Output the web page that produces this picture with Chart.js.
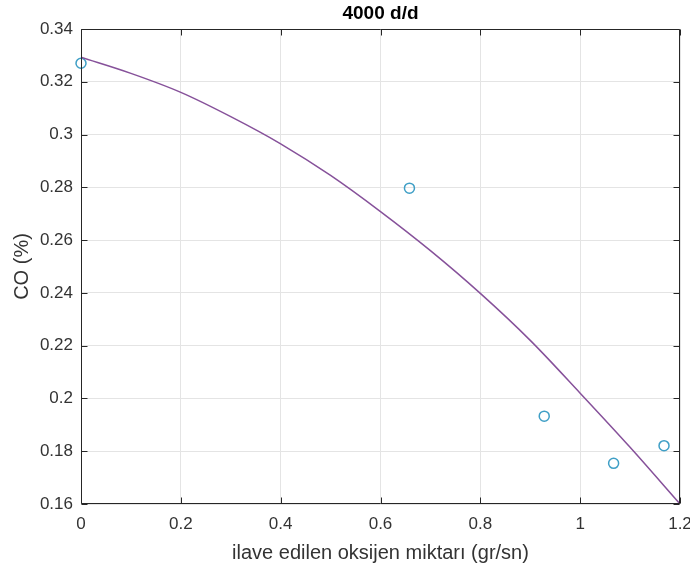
<!DOCTYPE html>
<html><head><meta charset="utf-8">
<script src="https://cdn.jsdelivr.net/npm/chart.js@4/dist/chart.umd.min.js"></script>
<style>html,body{margin:0;padding:0;background:#fff}#wrap{width:690px;height:572px;position:relative}</style>
</head><body><div id="wrap"><canvas id="c" width="690" height="572"></canvas></div>
<script>
const chartTitle = '4000 d/d';
const xAxisTitle = 'ilave edilen oksijen miktarı (gr/sn)';
const yAxisTitle = 'CO (%)';
// measured points (circles)
const measuredX = [0, 0.658, 0.928, 1.067, 1.168];
const measuredY = [0.327, 0.2797, 0.1933, 0.1754, 0.1821];
// fitted curve
const fitX = [0, 0.1, 0.2, 0.3, 0.4, 0.5, 0.6, 0.7, 0.8, 0.9, 1.0, 1.1, 1.2];
const fitY = [0.3293, 0.3232, 0.3160, 0.3068, 0.2965, 0.2845, 0.2708, 0.2560, 0.2398, 0.2220, 0.2020, 0.1815, 0.1600];
// tick values
const xTicks = [0, 0.2, 0.4, 0.6, 0.8, 1, 1.2];
const yTicks = [0.16, 0.18, 0.2, 0.22, 0.24, 0.26, 0.28, 0.3, 0.32, 0.34];

const FONT = "'Liberation Sans', Arial, Helvetica, sans-serif";
const AXIS_COL = '#262626';

const boxPlugin = {
  id: 'matlabBox',
  afterDraw(chart) {
    const ctx = chart.ctx, a = chart.chartArea;
    const xs = chart.scales.x, ys = chart.scales.y;
    ctx.save();
    ctx.strokeStyle = AXIS_COL;
    ctx.lineWidth = 1;
    const L = Math.round(a.left) + 0.5, R = Math.round(a.right) - 0.5;
    const T = Math.round(a.top) + 0.5, B = Math.round(a.bottom) - 0.5;
    ctx.beginPath();
    ctx.rect(L, T, R - L, B - T);
    ctx.stroke();
    const tl = 6;
    ctx.beginPath();
    xTicks.forEach(v => {
      const p = Math.round(xs.getPixelForValue(v)) + 0.5;
      ctx.moveTo(p, B); ctx.lineTo(p, B - tl);
      ctx.moveTo(p, T); ctx.lineTo(p, T + tl);
    });
    yTicks.forEach(v => {
      const p = Math.round(ys.getPixelForValue(v)) + 0.5;
      ctx.moveTo(L, p); ctx.lineTo(L + tl, p);
      ctx.moveTo(R, p); ctx.lineTo(R - tl, p);
    });
    ctx.stroke();
    ctx.restore();
  }
};

const fmt = v => String(+(+v).toFixed(2));

new Chart(document.getElementById('c'), {
  type: 'scatter',
  data: {
    datasets: [
      {
        type: 'line',
        label: 'fit',
        data: fitX.map((x, i) => ({x, y: fitY[i]})),
        borderColor: '#86519a',
        borderWidth: 1.5,
        pointRadius: 0,
        fill: false,
        cubicInterpolationMode: 'monotone'
      },
      {
        label: 'data',
        data: measuredX.map((x, i) => ({x, y: measuredY[i]})),
        pointStyle: 'circle',
        pointRadius: 5,
        pointBorderWidth: 1.5,
        pointBorderColor: '#3f9fc6',
        pointBackgroundColor: 'rgba(0,0,0,0)',
        showLine: false,
        clip: false
      }
    ]
  },
  options: {
    responsive: false,
    animation: false,
    devicePixelRatio: 1,
    layout: { padding: { left: 0, right: 10, top: 0, bottom: 0 } },
    plugins: {
      legend: { display: false },
      tooltip: { enabled: false },
      title: {
        display: true,
        fullSize: false,
        text: chartTitle,
        color: '#000',
        font: { family: FONT, size: 19, weight: 'bold' },
        padding: { top: 2, bottom: 4.2 }
      }
    },
    scales: {
      x: {
        type: 'linear',
        min: 0, max: 1.2,
        afterBuildTicks: s => { s.ticks = xTicks.map(v => ({value: v})); },
        afterFit: s => { s.height = 68; s.paddingLeft = 0; s.paddingRight = 0; },
        grid: { color: '#e4e4e4', drawTicks: false, lineWidth: 1 },
        border: { display: false },
        ticks: { callback: fmt, color: '#333', font: { family: FONT, size: 17 }, padding: 10, maxRotation: 0 },
        title: { display: true, text: xAxisTitle, color: '#333', font: { family: FONT, size: 20 }, padding: { top: 0, bottom: 7 } }
      },
      y: {
        type: 'linear',
        min: 0.16, max: 0.34,
        afterBuildTicks: s => { s.ticks = yTicks.map(v => ({value: v})); },
        afterFit: s => { s.width = 81; s.paddingTop = 0; s.paddingBottom = 0; },
        grid: { color: '#e4e4e4', drawTicks: false, lineWidth: 1 },
        border: { display: false },
        ticks: { callback: fmt, color: '#333', font: { family: FONT, size: 17 }, padding: 8 },
        title: { display: true, text: yAxisTitle, color: '#333', font: { family: FONT, size: 20 }, padding: { top: 10, bottom: 0 } }
      }
    }
  },
  plugins: [boxPlugin]
});
</script>
</body></html>
